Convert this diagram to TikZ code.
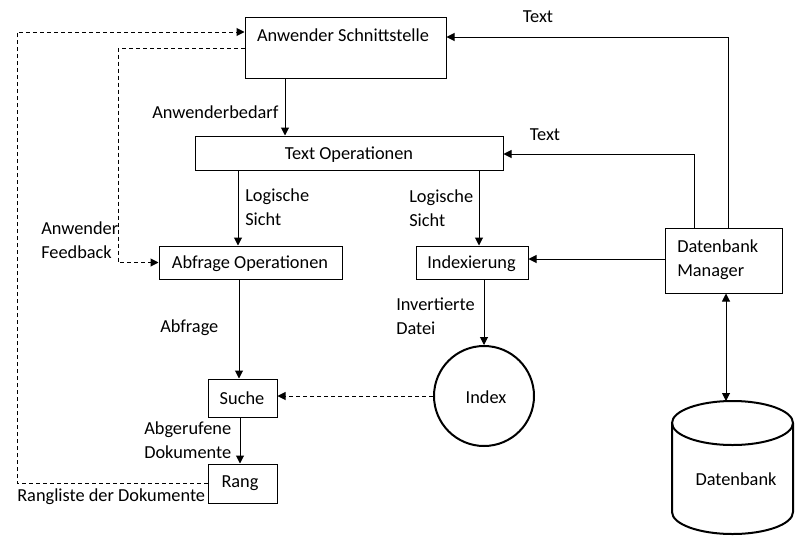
\documentclass[tikz,border=0pt]{standalone}
\usepackage{fontspec}
\setmainfont{Carlito}
\usetikzlibrary{arrows.meta,calc}
\begin{document}
\begin{tikzpicture}[x=0.75pt,y=-0.75pt,
  every node/.style={font=\fontsize{13.75pt}{18pt}\selectfont},
  box/.style={draw,line width=0.75pt,inner sep=0pt},
  lbl/.style={inner sep=0pt},
  conn/.style={line width=0.75pt},
  arr/.style={conn,-{Triangle[length=6pt,width=6pt]}},
  darr/.style={conn,{Triangle[length=6pt,width=6pt]}-{Triangle[length=6pt,width=6pt]}},
  dsh/.style={dash pattern=on 3pt off 2.25pt}
]
\useasboundingbox (0,0) rectangle (803,543);

% boxes
\node[box,minimum width=150.75pt,minimum height=45.75pt] (as) at (345.5,47.5) {};
\node[lbl] (astext) at (343,35) {Anwender Schnittstelle};
\node[box,minimum width=231pt,minimum height=25.5pt] (to) at (349,153) {};
\node[lbl] (totext) at (349,155) {Text Operationen};
\node[box,minimum width=137.25pt,minimum height=24.75pt] (ab) at (250.5,262.5) {};
\node[lbl] (abtext) at (250,264) {Abfrage Operationen};
\node[box,minimum width=84pt,minimum height=24.75pt] (ix) at (472,262.5) {};
\node[lbl] (ixtext) at (471.5,264) {Indexierung};
\node[box,minimum width=87.75pt,minimum height=48.75pt] (dm) at (723.5,260.5) {};
\node[lbl,align=left,anchor=west] (dmtext) at (677,260) {Datenbank\\Manager};
\node[box,minimum width=51.75pt,minimum height=28.5pt] (su) at (242.5,398) {};
\node[lbl] (sutext) at (242,398) {Suche};
\node[box,minimum width=51.75pt,minimum height=29.25pt] (rg) at (242.5,483.5) {};
\node[lbl] (rgtext) at (240,483) {Rang};
\node[draw,circle,line width=1.5pt,minimum size=75pt,inner sep=0pt] (idx) at (484,396) {};
\node[lbl] (idxtext) at (486,397) {Index};

% cylinder
\draw[line width=1.5pt] (672,423) -- (672,512)
  arc[start angle=180,end angle=360,x radius=45.375pt,y radius=16.5pt] -- (793,423);
\draw[line width=1.5pt] (732.5,423) ellipse [x radius=45.375pt,y radius=16.5pt];
\coordinate (dbtop) at (726,401);
\node[lbl] (dbtext) at (736,479) {Datenbank};

% helper coordinates
\coordinate (x285) at (285,0);
\coordinate (x238) at (238,0);
\coordinate (x239) at (239,0);
\coordinate (x240) at (240,0);
\coordinate (x479) at (479,0);
\coordinate (x484) at (484,0);
\coordinate (x694) at (694,0);
\coordinate (x726) at (726,0);
\coordinate (x728) at (728,0);
\coordinate (y37) at (0,37);
\coordinate (y154) at (0,154);
\coordinate (y259) at (0,259);
\coordinate (y396) at (0,396);
\coordinate (L1) at (17,32);
\coordinate (L2) at (118,48);

% solid connectors
\draw[arr] (as.south -| x285) -- (to.north -| x285);
\draw[arr] (dm.north -| x728) -- (x728 |- y37) -- (as.east |- y37);
\draw[arr] (dm.north -| x694) -- (x694 |- y154) -- (to.east |- y154);
\draw[arr] (dm.west |- y259) -- (ix.east |- y259);
\draw[arr] (to.south -| x238) -- (ab.north -| x238);
\draw[arr] (to.south -| x479) -- (ix.north -| x479);
\draw[arr] (ab.south -| x239) -- (su.north -| x239);
\draw[arr] (ix.south -| x484) -- (idx.north);
\draw[arr] (su.south -| x240) -- (rg.north -| x240);
\draw[darr] (dm.south -| x726) -- (dbtop);

% dashed connectors
\draw[arr,dsh] (idx.west |- y396) -- (su.east |- y396);
\draw[arr,dsh] (rg.west) -| (L1) -- (L1 -| as.west);
\draw[arr,dsh] (L2 -| as.west) -- (L2) |- (ab.west);

% labels
\node[lbl,anchor=west] (l1) at (152,112) {Anwenderbedarf};
\node[lbl] (l2) at (538,17) {Text};
\node[lbl] (l3) at (545,135) {Text};
\node[lbl,align=left,anchor=west] (l4) at (245,207) {Logische\\Sicht};
\node[lbl,align=left,anchor=west] (l5) at (409,208) {Logische\\Sicht};
\node[lbl,align=left,anchor=west] (l6) at (41,240) {Anwender\\Feedback};
\node[lbl,anchor=west] (l7) at (160,328) {Abfrage};
\node[lbl,align=left,anchor=west] (l8) at (396,316) {Invertierte\\Datei};
\node[lbl,align=left,anchor=west] (l9) at (144,440) {Abgerufene\\Dokumente};
\node[lbl,anchor=west] (l10) at (17,497) {Rangliste der Dokumente};
\end{tikzpicture}
\end{document}
